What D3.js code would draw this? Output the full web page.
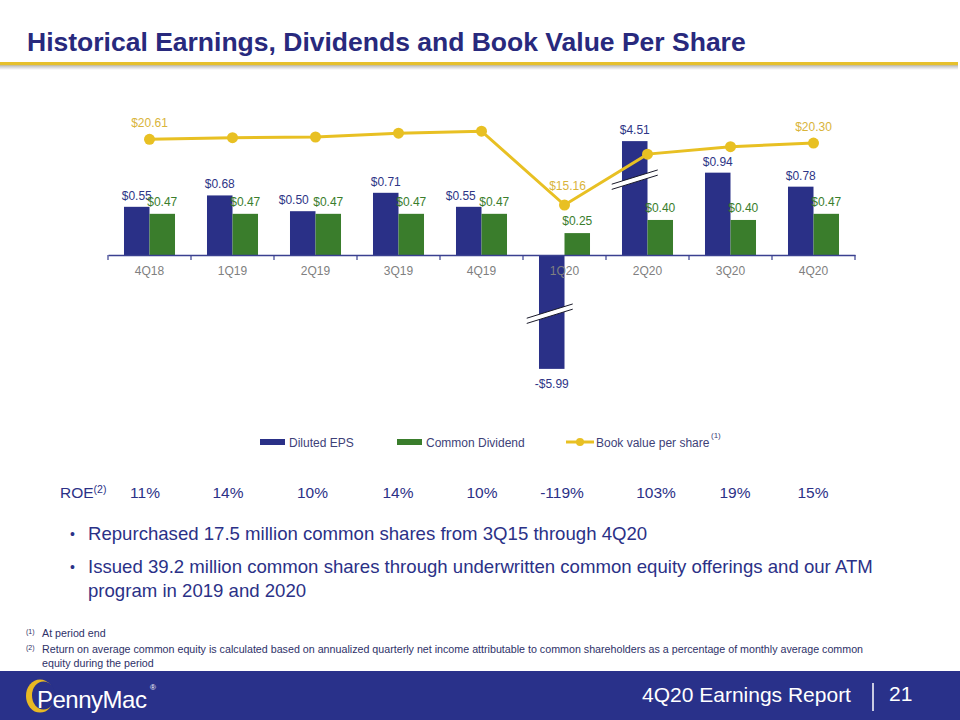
<!DOCTYPE html>
<html><head><meta charset="utf-8">
<script src="https://cdn.jsdelivr.net/npm/d3@7/dist/d3.min.js"></script>
<style>
html,body{margin:0;padding:0;background:#fff;}
svg{display:block;font-family:"Liberation Sans",Arial,Helvetica,sans-serif;}
</style></head>
<body>
<svg id="c" width="960" height="720"></svg>
<script>
// ---- data ----
const categories = ["4Q18","1Q19","2Q19","3Q19","4Q19","1Q20","2Q20","3Q20","4Q20"];
const dilutedEPS = [0.55, 0.68, 0.50, 0.71, 0.55, -5.99, 4.51, 0.94, 0.78];
const commonDividend = [0.47, 0.47, 0.47, 0.47, 0.47, 0.25, 0.40, 0.40, 0.47];
const bookValue = [20.61, 20.74, 20.80, 21.12, 21.28, 15.16, 19.38, 20.00, 20.30];
const showBookLabel = [true, false, false, false, false, true, false, false, true];
const roe = ["11%","14%","10%","14%","10%","-119%","103%","19%","15%"];
const axisCap = 1.3;            // broken-axis display cap for EPS bars
const breakAt = {"2Q20": 0.86, "1Q20": -0.67};

// label nudges (layout only)
const epsLabelDx = [0, 0, -9, 0, -8, 0, 0, 0, 0];
const roeDx = [-4.5, -4.5, -3, -0.5, 0.5, -2.5, 8.5, 4.5, -0.5];

const C = {navy:"#2a3087", green:"#3a7d2c", gold:"#e8c023", goldText:"#d9b43a",
           epsText:"#2e3586", divText:"#3a7d2c", axisText:"#808080"};

const svg = d3.select("#c");

// ---- title ----
svg.append("text").attr("x",27).attr("y",51).attr("fill","#28297d")
  .attr("font-size",26.5).attr("font-weight","bold")
  .text("Historical Earnings, Dividends and Book Value Per Share");
const grad = svg.append("defs").append("linearGradient").attr("id","sh")
  .attr("x1",0).attr("x2",0).attr("y1",0).attr("y2",1);
grad.append("stop").attr("offset","0%").attr("stop-color","#b8b8b8");
grad.append("stop").attr("offset","100%").attr("stop-color","#ffffff");
svg.append("rect").attr("x",0).attr("y",65).attr("width",958).attr("height",5).attr("fill","url(#sh)");
svg.append("rect").attr("x",0).attr("y",62).attr("width",958).attr("height",3.2).attr("fill","#e6c02c");

// ---- scales ----
const x0 = d3.scaleBand().domain(categories).range([108,855]).paddingInner(0).paddingOuter(0);
const x1 = d3.scaleBand().domain(["eps","div"]).range([0,x0.bandwidth()]).paddingInner(0).paddingOuter(0.627);
const yBar = d3.scaleLinear().domain([-2,2]).range([255+2*87.6, 255-2*87.6]);
const yLine = d3.scaleLinear().domain([15.16,20.61]).range([205,139.3]);
const disp = v => Math.max(-axisCap, Math.min(axisCap, v));
const fmt = v => (v<0?"-$":"$") + Math.abs(v).toFixed(2);

const g = svg.append("g");

// ticks + domain
const bounds = categories.map(c=>x0(c)).concat([x0.range()[1]]);
g.selectAll(".tk").data(bounds).join("line")
  .attr("x1",d=>d).attr("x2",d=>d).attr("y1",yBar(0)).attr("y2",yBar(0)+5)
  .attr("stroke","#3a4090").attr("stroke-width",1.2);

// bars
const rows = categories.map((c,i)=>({c, i, eps:dilutedEPS[i], div:commonDividend[i]}));
g.selectAll(".eps").data(rows).join("rect")
  .attr("x",d=>x0(d.c)+x1("eps")).attr("width",x1.bandwidth())
  .attr("y",d=>yBar(Math.max(0,disp(d.eps))))
  .attr("height",d=>Math.abs(yBar(disp(d.eps))-yBar(0)))
  .attr("fill",C.navy);
g.selectAll(".div").data(rows).join("rect")
  .attr("x",d=>x0(d.c)+x1("div")).attr("width",x1.bandwidth())
  .attr("y",d=>yBar(Math.max(0,d.div)))
  .attr("height",d=>Math.abs(yBar(d.div)-yBar(0)))
  .attr("fill",C.green);

// x axis (labels drawn above bars)
const ax = g.append("g").attr("transform",`translate(0,${yBar(0)})`)
  .call(d3.axisBottom(x0).tickSize(0).tickPadding(11.5));
ax.select(".domain").attr("stroke","#3a4090").attr("stroke-width",1.3);
ax.selectAll("text").attr("fill",C.axisText).attr("font-size",12)
  .attr("font-family","'Liberation Sans',Arial,sans-serif");

// break marks
Object.entries(breakAt).forEach(([c,v])=>{
  const xc = x0(c)+x1("eps")+x1.bandwidth()/2 + (v<0?-2:0);
  const yc = yBar(v), hw=23, s=0.31, t=2.6;
  const pts = [[xc-hw, yc+hw*s-t],[xc+hw, yc-hw*s-t],[xc+hw, yc-hw*s+t],[xc-hw, yc+hw*s+t]];
  g.append("path").attr("d","M"+pts.map(p=>p.join(",")).join("L")+"Z").attr("fill","#fff");
  g.append("line").attr("x1",pts[0][0]).attr("y1",pts[0][1]).attr("x2",pts[1][0]).attr("y2",pts[1][1])
    .attr("stroke","#1a1a2a").attr("stroke-width",1);
  g.append("line").attr("x1",pts[3][0]).attr("y1",pts[3][1]).attr("x2",pts[2][0]).attr("y2",pts[2][1])
    .attr("stroke","#1a1a2a").attr("stroke-width",1);
});

// bar labels
g.selectAll(".epsl").data(rows).join("text")
  .attr("x",d=>x0(d.c)+x1("eps")+x1.bandwidth()/2+epsLabelDx[d.i])
  .attr("y",d=>d.eps>=0 ? yBar(disp(d.eps))-7 : yBar(disp(d.eps))+19)
  .attr("text-anchor","middle").attr("font-size",12).attr("fill",C.epsText)
  .text(d=>fmt(d.eps));
g.selectAll(".divl").data(rows).join("text")
  .attr("x",d=>x0(d.c)+x1("div")+x1.bandwidth()/2)
  .attr("y",d=>yBar(d.div)-8)
  .attr("text-anchor","middle").attr("font-size",12).attr("fill",C.divText)
  .text(d=>fmt(d.div));

// book value line
const cx = c => x0(c)+x0.bandwidth()/2;
const bv = categories.map((c,i)=>({c, v:bookValue[i], show:showBookLabel[i]}));
g.append("path").datum(bv)
  .attr("d",d3.line().x(d=>cx(d.c)).y(d=>yLine(d.v)))
  .attr("fill","none").attr("stroke",C.gold).attr("stroke-width",3);
g.selectAll(".dot").data(bv).join("circle")
  .attr("cx",d=>cx(d.c)).attr("cy",d=>yLine(d.v)).attr("r",5.5).attr("fill",C.gold);
g.selectAll(".bvl").data(bv.filter(d=>d.show)).join("text")
  .attr("x",d=>cx(d.c)+ (d.v<18?3:0)).attr("y",d=>yLine(d.v)-(d.v<18?15:12.5))
  .attr("text-anchor","middle").attr("font-size",12).attr("fill",C.goldText)
  .text(d=>"$"+d.v.toFixed(2));

// legend
const lg = svg.append("g").attr("font-size",12).attr("fill","#3d4178");
lg.append("rect").attr("x",260).attr("y",439).attr("width",25).attr("height",6).attr("fill",C.navy);
lg.append("text").attr("x",289).attr("y",447).text("Diluted EPS");
lg.append("rect").attr("x",397).attr("y",439).attr("width",25).attr("height",6).attr("fill",C.green);
lg.append("text").attr("x",426).attr("y",447).text("Common Dividend");
lg.append("line").attr("x1",566).attr("x2",594).attr("y1",442).attr("y2",442).attr("stroke",C.gold).attr("stroke-width",3);
lg.append("circle").attr("cx",580).attr("cy",442).attr("r",4).attr("fill",C.gold);
lg.append("text").attr("x",596).attr("y",447).text("Book value per share");
lg.append("text").attr("x",711).attr("y",438).attr("font-size",8).text("(1)");

// ROE row
const roeG = svg.append("g").attr("fill","#2b3187").attr("font-size",15.5);
const roeLbl = roeG.append("text").attr("x",60).attr("y",498);
roeLbl.append("tspan").text("ROE");
roeLbl.append("tspan").attr("font-size",10.5).attr("dy",-5).text("(2)");
roeG.selectAll(".roe").data(categories.map((c,i)=>({c,i,r:roe[i]}))).join("text")
  .attr("x",d=>cx(d.c)+roeDx[d.i]).attr("y",498).attr("text-anchor","middle").text(d=>d.r);

// bullets
const bl = svg.append("g").attr("fill","#2b3187").attr("font-size",18.6);
bl.append("text").attr("x",70).attr("y",539).attr("font-size",14).text("•");
bl.append("text").attr("x",88).attr("y",540).text("Repurchased 17.5 million common shares from 3Q15 through 4Q20");
bl.append("text").attr("x",70).attr("y",572).attr("font-size",14).text("•");
bl.append("text").attr("x",88).attr("y",573).text("Issued 39.2 million common shares through underwritten common equity offerings and our ATM");
bl.append("text").attr("x",88).attr("y",597).text("program in 2019 and 2020");

// footnotes
const fn = svg.append("g").attr("fill","#2e3168").attr("font-size",10.7);
fn.append("text").attr("x",26).attr("y",634).attr("font-size",7).text("(1)");
fn.append("text").attr("x",42).attr("y",637).text("At period end");
fn.append("text").attr("x",26).attr("y",650).attr("font-size",7).text("(2)");
fn.append("text").attr("x",42).attr("y",653).text("Return on average common equity is calculated based on annualized quarterly net income attributable to common shareholders as a percentage of monthly average common");
fn.append("text").attr("x",42).attr("y",667).text("equity during the period");

// footer
svg.append("rect").attr("x",0).attr("y",671).attr("width",960).attr("height",49).attr("fill","#29318a");
svg.append("ellipse").attr("cx",40).attr("cy",696).attr("rx",14).attr("ry",16.5).attr("fill","#e8b923");
svg.append("ellipse").attr("cx",43.5).attr("cy",695.5).attr("rx",11.5).attr("ry",14).attr("fill","#29318a");
svg.append("text").attr("x",37).attr("y",708).attr("fill","#fff").attr("font-size",24).attr("letter-spacing",-0.5).text("PennyMac");
svg.append("text").attr("x",150).attr("y",690).attr("fill","#fff").attr("font-size",8).text("®");
svg.append("text").attr("x",642).attr("y",702).attr("fill","#fff").attr("font-size",21).text("4Q20 Earnings Report");
svg.append("line").attr("x1",873).attr("x2",873).attr("y1",683).attr("y2",711).attr("stroke","#fff").attr("stroke-width",1.5);
svg.append("text").attr("x",889).attr("y",701).attr("fill","#fff").attr("font-size",21).text("21");
</script>
</body></html>
